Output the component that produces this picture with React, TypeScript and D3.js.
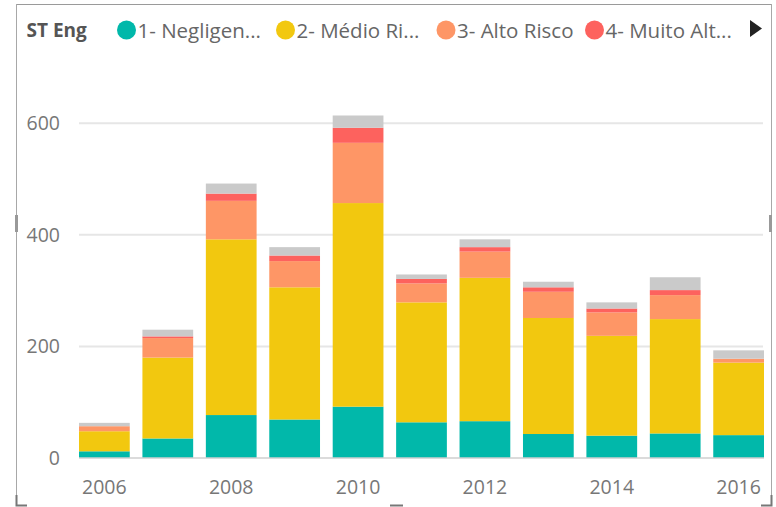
import { scaleBand, scaleLinear, stack } from "d3";

const years = ["2006", "2007", "2008", "2009", "2010", "2011", "2012", "2013", "2014", "2015", "2016"];
const seriesNames = ["1- Negligenciável", "2- Médio Risco", "3- Alto Risco", "4- Muito Alto Risco", "5- Outros"];
const legendLabels = ["1- Negligen...", "2- Médio Ri...", "3- Alto Risco", "4- Muito Alt..."];

const negligenciavel = [12, 35, 77, 69, 92, 64, 66, 43, 40, 44, 41];
const medioRisco = [36, 145, 315, 237, 365, 215, 257, 208, 179, 205, 130];
const altoRisco = [9, 35, 69, 47, 108, 34, 47, 47, 42, 43, 7];
const muitoAlto = [0, 3, 13, 10, 27, 8, 8, 8, 7, 9, 0];
const outros = [6, 12, 18, 15, 22, 8, 14, 10, 11, 23, 15];

const yTicks = [0, 200, 400, 600];
const xLabels = ["2006", "2008", "2010", "2012", "2014", "2016"];

const colors = ["#01B8AA", "#F2C80F", "#FE9666", "#FD625E", "#CACACA"];
const font = "'Open Sans', 'Noto Sans', sans-serif";

export default function App() {
  const width = 776;
  const height = 507;

  const rows = years.map((year, i) => ({
    year,
    [seriesNames[0]]: negligenciavel[i],
    [seriesNames[1]]: medioRisco[i],
    [seriesNames[2]]: altoRisco[i],
    [seriesNames[3]]: muitoAlto[i],
    [seriesNames[4]]: outros[i],
  }));
  const layers = stack<any>().keys(seriesNames)(rows);

  const x = scaleBand<string>().domain(years).range([79, 764]).paddingInner(0.2).paddingOuter(0);
  const y = scaleLinear().domain([0, 600]).range([458, 123.3]);

  // legend layout
  const legendCx = [126.5, 285.5, 446, 594.5];

  return (
    <div style={{ position: "fixed", left: 0, top: 0 }}>
      <svg width={width} height={height} style={{ display: "block", fontFamily: font }}>
        <rect width={width} height={height} fill="#fff" />

        {/* frame */}
        <line x1={16} x2={772} y1={4.5} y2={4.5} stroke="#9a9a9a" strokeWidth={1} />
        <line x1={16.5} x2={16.5} y1={4} y2={505} stroke="#a8a8a8" strokeWidth={1} />
        <line x1={771.5} x2={771.5} y1={4} y2={505} stroke="#a8a8a8" strokeWidth={1} />
        <path d="M16.5,495 V505.5 H27" fill="none" stroke="#777" strokeWidth={2} />
        <path d="M771.5,495 V505.5 H761" fill="none" stroke="#777" strokeWidth={2} />
        <line x1={390} x2={403} y1={505.5} y2={505.5} stroke="#777" strokeWidth={2} />
        <rect x={15} y={215} width={3} height={17} fill="#999" />
        <rect x={769} y={215} width={3} height={17} fill="#999" />

        {/* legend */}
        <text x={26.5} y={30.5} dy="0.35em" fontSize={19} fontWeight={700} fill="#555">ST Eng</text>
        {legendLabels.map((label, i) => (
          <g key={label}>
            <circle cx={legendCx[i]} cy={30} r={9.5} fill={colors[i]} />
            <text x={legendCx[i] + 11} y={30.5} dy="0.35em" fontSize={20.5} fill="#666">{label}</text>
          </g>
        ))}
        <path d="M750,20 L762,28.5 L750,37 Z" fill="#222" />

        {/* gridlines */}
        {yTicks.filter((t) => t > 0).map((t) => (
          <line key={t} x1={79} x2={763} y1={y(t)} y2={y(t)} stroke="#e6e6e6" strokeWidth={2} />
        ))}
        {yTicks.map((t) => (
          <text key={t} x={60} y={y(t)} dy="0.35em" textAnchor="end" fontSize={19.5} fill="#777">{t}</text>
        ))}

        {/* bars */}
        {layers.map((layer, si) => (
          <g key={layer.key} fill={colors[si]}>
            {layer.map((d, i) => (
              <rect
                key={years[i]}
                x={x(years[i])}
                y={y(d[1])}
                width={x.bandwidth()}
                height={Math.max(0, y(d[0]) - y(d[1]))}
              />
            ))}
          </g>
        ))}

        <line x1={79} x2={764} y1={458} y2={458} stroke="#cfcfcf" strokeWidth={1.5} />

        {xLabels.map((lab) => (
          <text key={lab} x={(x(lab) ?? 0) + x.bandwidth() / 2} y={487} dy="0.35em" textAnchor="middle" fontSize={19.5} fill="#777">
            {lab}
          </text>
        ))}
      </svg>
    </div>
  );
}
